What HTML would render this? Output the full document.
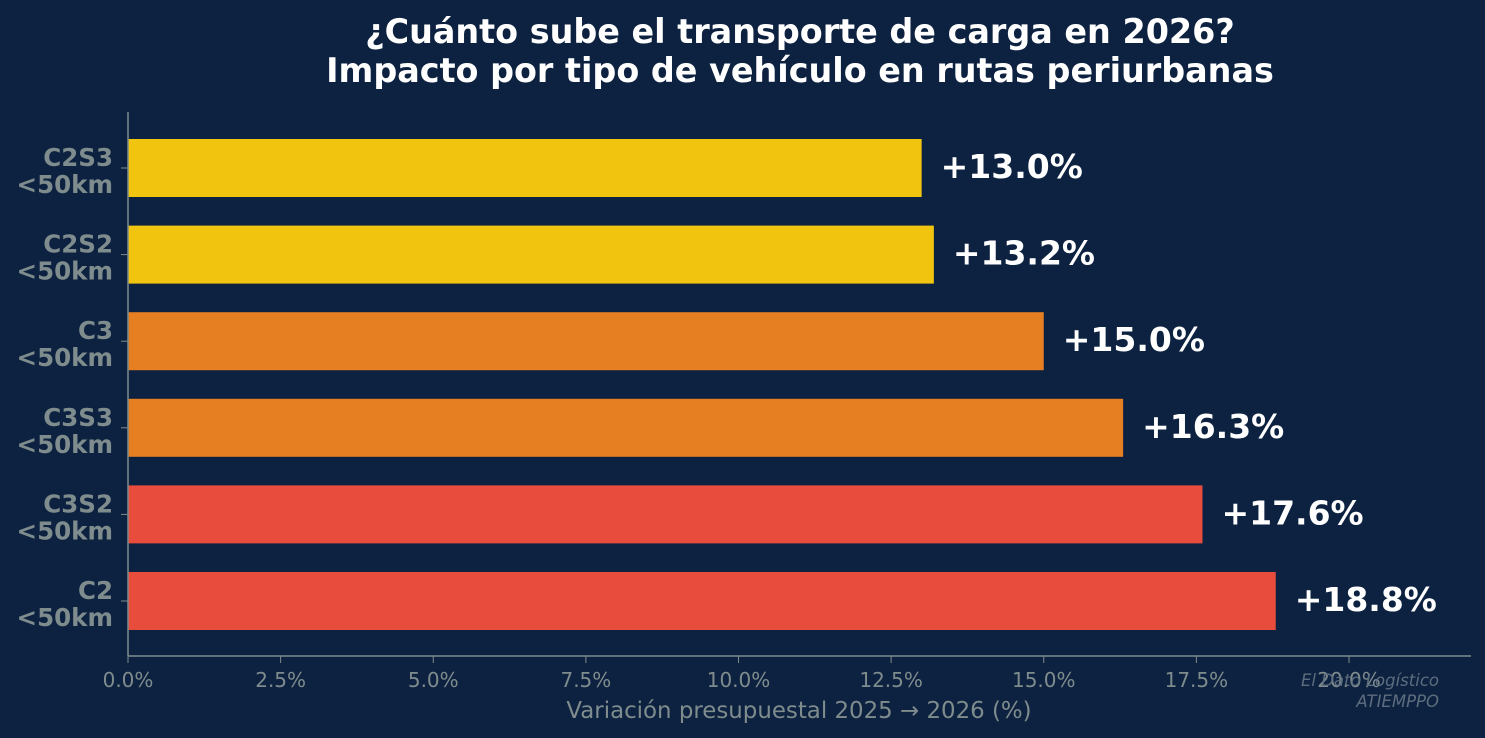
<!DOCTYPE html>
<html><head><meta charset="utf-8"><style>
html,body{margin:0;padding:0;background:#0d2240;}
svg{display:block;font-family:"DejaVu Sans","Liberation Sans",sans-serif;}
</style></head><body>
<svg id="chart" width="1485" height="738" viewBox="0 0 1485 738">
<rect width="1485" height="738" fill="#0d2240"/>
<text x="800" y="43" text-anchor="middle" fill="#fff" font-size="33.4" font-weight="bold">¿Cuánto sube el transporte de carga en 2026?</text>
<text x="800" y="82" text-anchor="middle" fill="#fff" font-size="33.4" font-weight="bold">Impacto por tipo de vehículo en rutas periurbanas</text>
<g id="bars"></g>
<line x1="128" y1="112" x2="128" y2="656" stroke="#7f8c8d" stroke-width="1.5"/>
<line x1="128" y1="656" x2="1471" y2="656" stroke="#7f8c8d" stroke-width="1.5"/>
<g id="xticks"></g>
<text x="799" y="718" text-anchor="middle" fill="#7f8c8d" font-size="22.9">Variación presupuestal 2025 → 2026 (%)</text>
<text x="1439" y="686" text-anchor="end" fill="#5d6d7e" font-size="16.5" font-style="italic">El Dato Logístico</text>
<text x="1439" y="707" text-anchor="end" fill="#5d6d7e" font-size="16.5" font-style="italic">ATIEMPPO</text>
</svg>
<script>
const categories = ["C2S3","C2S2","C3","C3S3","C3S2","C2"];
const values = [13.0,13.2,15.0,16.3,17.6,18.8];
const colors = ["#f1c40f","#f1c40f","#e67e22","#e67e22","#e74c3c","#e74c3c"];
const ticks = [0,2.5,5,7.5,10,12.5,15,17.5,20];
const NS="http://www.w3.org/2000/svg";
function x(v){return 128+v*61.05;}
function y(i){return 168+i*86.6;}
const bars=document.getElementById('bars');
const bh=58;
categories.forEach((c,i)=>{
  const r=document.createElementNS(NS,'rect');
  r.setAttribute('x',x(0));r.setAttribute('y',y(i)-bh/2);
  r.setAttribute('width',x(values[i])-x(0));r.setAttribute('height',bh);
  r.setAttribute('fill',colors[i]);
  
  
  bars.appendChild(r);
  const t=document.createElementNS(NS,'text');
  t.setAttribute('x',x(values[i])+19);t.setAttribute('y',y(i)+10);
  t.setAttribute('fill','#fff');t.setAttribute('font-size','33');t.setAttribute('font-weight','bold');
  t.textContent='+'+values[i].toFixed(1)+'%';
  
  
  bars.appendChild(t);
  const tk=document.createElementNS(NS,'line');
  tk.setAttribute('x1',121);tk.setAttribute('x2',128);tk.setAttribute('y1',y(i));tk.setAttribute('y2',y(i));
  tk.setAttribute('stroke','#7f8c8d');
  
  
  bars.appendChild(tk);
  const l=document.createElementNS(NS,'text');
  l.setAttribute('text-anchor','end');l.setAttribute('fill','#7f8c8d');l.setAttribute('font-size','24.5');l.setAttribute('font-weight','bold');
  
  
  const s1=document.createElementNS(NS,'tspan');s1.setAttribute('x',113);s1.setAttribute('y',y(i)-2);s1.textContent=c;
  const s2=document.createElementNS(NS,'tspan');s2.setAttribute('x',113);s2.setAttribute('y',y(i)+25);s2.textContent='<50km';
  l.appendChild(s1);l.appendChild(s2);bars.appendChild(l);
});
const xt=document.getElementById('xticks');
ticks.forEach(v=>{
  const tk=document.createElementNS(NS,'line');
  tk.setAttribute('x1',x(v));tk.setAttribute('x2',x(v));tk.setAttribute('y1',656);tk.setAttribute('y2',663);
  tk.setAttribute('stroke','#7f8c8d');
  
  
  xt.appendChild(tk);
  const t=document.createElementNS(NS,'text');
  t.setAttribute('x',x(v));t.setAttribute('y',687);t.setAttribute('text-anchor','middle');
  t.setAttribute('fill','#7f8c8d');t.setAttribute('font-size','20');
  t.textContent=v.toFixed(1)+'%';
  
  
  xt.appendChild(t);
});
</script>
</body></html>
